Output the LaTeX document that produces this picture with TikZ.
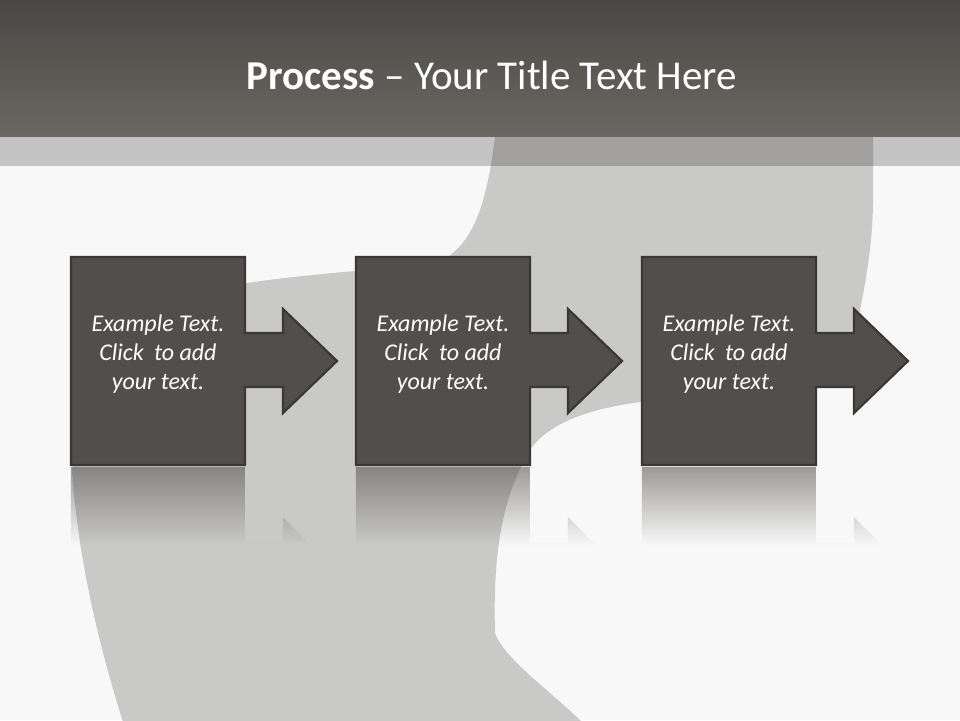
\documentclass[tikz,border=0pt]{standalone}
\usepackage{fontspec}
\setmainfont{Carlito}
\usetikzlibrary{fadings}
\definecolor{barTop}{HTML}{4B4744}
\definecolor{barBot}{HTML}{6B6864}
\definecolor{bgcol}{HTML}{F8F8F8}
\definecolor{swirlcol}{HTML}{C9C9C8}
\definecolor{bandcol}{HTML}{2A2826}
\definecolor{boxfill}{HTML}{524E4B}
\definecolor{boxline}{HTML}{3A3735}
\tikzfading[name=reflfade, top color=transparent!45, bottom color=transparent!100]
\tikzset{
  stepshape/.style={fill=boxfill, draw=boxline, line width=2.2pt, line join=miter},
  reflshape/.style={fill=boxfill, path fading=reflfade},
  boxtext/.style={text=white, align=center, font=\itshape\fontsize{24}{29}\selectfont, inner sep=0pt},
  titletext/.style={text=white, font=\fontsize{41}{48}\selectfont, inner sep=0pt}
}
\begin{document}
\begin{tikzpicture}[x=1pt,y=-1pt]
\useasboundingbox (0,0) rectangle (960,720);
\fill[bgcol] (0,0) rectangle (960,720);
% swirl (chair-like ribbon)
\fill[swirlcol] (496,130) -- (491,165)
  .. controls (482,215) and (470,245) .. (440,262)
  .. controls (410,268) and (320,272) .. (247,283)
  .. controls (170,295) and (90,360) .. (72,470)
  .. controls (78,560) and (100,650) .. (124,725)
  -- (585,725)
  .. controls (550,690) and (505,660) .. (495,633)
  .. controls (493,560) and (500,500) .. (530,450)
  .. controls (550,420) and (600,405) .. (660,400)
  -- (816,388)
  .. controls (840,370) and (855,340) .. (860,310)
  .. controls (866,280) and (873,240) .. (873,200)
  -- (873,130) -- cycle;
% light band
\fill[bandcol, opacity=0.25] (0,136) rectangle (960,165.5);
% title bar
\shade[top color=barTop, bottom color=barBot] (0,0) rectangle (960,136.5);
\node[titletext] (title) at (492,75) {\textbf{Process} – Your Title Text Here};
% reflections
\foreach \x in {71,356,642}{
  \fill[reflshape] (\x,467) -- ++(174,0) -- ++(0,76) -- ++(38,0) -- ++(0,-26) -- ++(28,28) -- (\x,545) -- cycle;
}
% process steps
\foreach \x in {71,356,642}{
  \draw[stepshape] (\x,257) -- ++(174,0) -- ++(0,76) -- ++(38,0) -- ++(0,-24) -- ++(54,52) -- ++(-54,52) -- ++(0,-26) -- ++(-38,0) -- ++(0,78) -- ++(-174,0) -- cycle;
}
\node[boxtext] (t1) at (158,354) {Example Text.\\Click\hspace{0.2em} to add\\your text.};
\node[boxtext] (t2) at (443,354) {Example Text.\\Click\hspace{0.2em} to add\\your text.};
\node[boxtext] (t3) at (729,354) {Example Text.\\Click\hspace{0.2em} to add\\your text.};
\end{tikzpicture}
\end{document}
